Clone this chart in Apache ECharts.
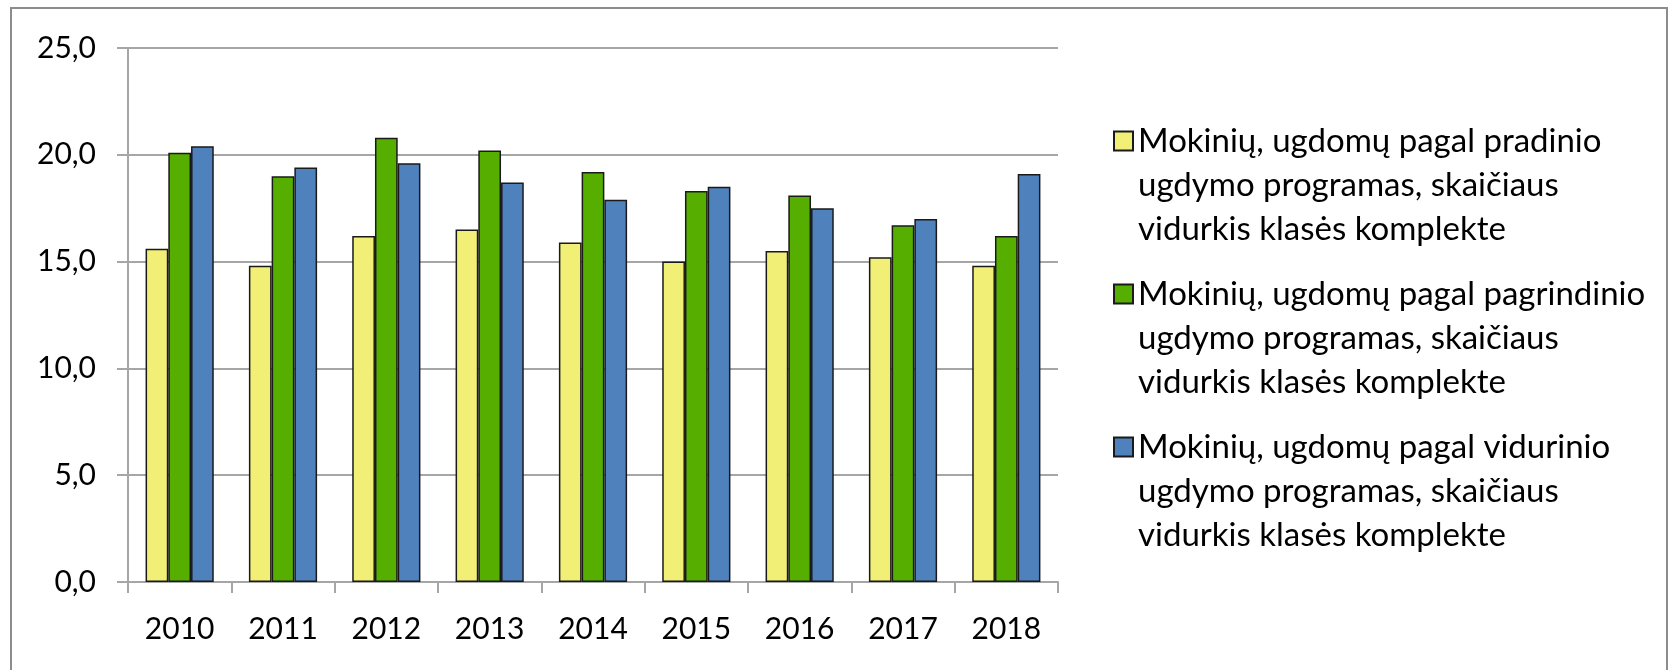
<!DOCTYPE html>
<html>
<head>
<meta charset="utf-8">
<script src="https://cdn.jsdelivr.net/npm/echarts@6/dist/echarts.min.js"></script>
<style>
  html, body { margin: 0; padding: 0; background: #fff; }
  #chart { width: 1675px; height: 670px; }
</style>
</head>
<body>
<div id="chart"></div>
<script>
'use strict';

// metai
var years = ['2010', '2011', '2012', '2013', '2014', '2015', '2016', '2017', '2018'];

// mokinių skaičiaus vidurkis klasės komplekte
var pradinio = [15.6, 14.8, 16.2, 16.5, 15.9, 15.0, 15.5, 15.2, 14.8];
var pagrindinio = [20.1, 19.0, 20.8, 20.2, 19.2, 18.3, 18.1, 16.7, 16.2];
var vidurinio = [20.4, 19.4, 19.6, 18.7, 17.9, 18.5, 17.5, 17.0, 19.1];

var seriesNames = [
    'Mokinių, ugdomų pagal pradinio\nugdymo programas, skaičiaus\nvidurkis klasės komplekte',
    'Mokinių, ugdomų pagal pagrindinio\nugdymo programas, skaičiaus\nvidurkis klasės komplekte',
    'Mokinių, ugdomų pagal vidurinio\nugdymo programas, skaičiaus\nvidurkis klasės komplekte'
];
var colors = ['#F1EF76', '#56AE00', '#4F81BD'];

var myChart = echarts.init(document.getElementById('chart'));

var gridGray = '#A6A6A6';
var fontFamily = 'Lato';

// legendos kvadratėlis prie pirmos eilutės: kelias 19x107, kvadratas viršuje
var legendIcon = 'path://M0,0H19V19H0Z M0,107L0,107';

function barSeries(name, data, color) {
    return {
        type: 'bar',
        name: name,
        data: data,
        barGap: '0%',
        barCategoryGap: '34%',
        itemStyle: {
            color: color,
            borderColor: '#1a1a1a',
            borderWidth: 1.5
        },
        emphasis: {disabled: true}
    };
}

var option = {
    backgroundColor: '#fff',
    animation: false,
    graphic: [{
        type: 'rect',
        shape: {x: 11, y: 8, width: 1656, height: 700},
        style: {fill: 'none', stroke: '#8C8C8C', lineWidth: 2},
        silent: true
    }],
    grid: {
        left: 128,
        right: 617,
        top: 48,
        bottom: 88
    },
    legend: {
        orient: 'vertical',
        left: 1113,
        top: 119,
        padding: 0,
        itemWidth: 19,
        itemHeight: 107,
        itemGap: 21,
        icon: legendIcon,
        selectedMode: false,
        textStyle: {
            fontFamily: fontFamily,
            fontSize: 33,
            color: '#000',
            lineHeight: 44
        },
        data: seriesNames
    },
    xAxis: {
        type: 'category',
        data: years,
        axisLine: {lineStyle: {color: gridGray, width: 2}},
        axisTick: {show: true, length: 11, lineStyle: {color: gridGray, width: 2}},
        axisLabel: {
            fontFamily: fontFamily,
            fontSize: 30,
            color: '#000',
            margin: 32
        }
    },
    yAxis: {
        type: 'value',
        min: 0,
        max: 25,
        interval: 5,
        axisLine: {show: true, lineStyle: {color: gridGray, width: 2}},
        axisTick: {show: true, length: 11, lineStyle: {color: gridGray, width: 2}},
        splitLine: {lineStyle: {color: gridGray, width: 2}},
        axisLabel: {
            fontFamily: fontFamily,
            fontSize: 30,
            color: '#000',
            margin: 32,
            formatter: function (v) {
                return v.toFixed(1).replace('.', ',');
            }
        }
    },
    series: [
        barSeries(seriesNames[0], pradinio, colors[0]),
        barSeries(seriesNames[1], pagrindinio, colors[1]),
        barSeries(seriesNames[2], vidurinio, colors[2])
    ]
};

myChart.setOption(option);
</script>
</body>
</html>
